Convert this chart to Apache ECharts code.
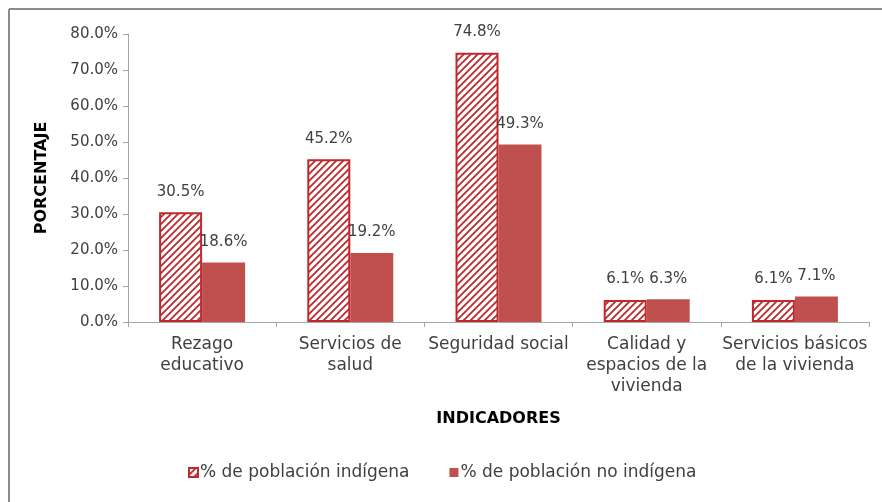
<!DOCTYPE html>
<html>
<head>
<meta charset="utf-8">
<script src="https://cdn.jsdelivr.net/npm/echarts@6/dist/echarts.min.js"></script>
<style>html,body{margin:0;padding:0;background:#fff}#c{width:882px;height:502px}</style>
</head>
<body>
<div id="c"></div>
<script>
var categories = ['Rezago\neducativo', 'Servicios de\nsalud', 'Seguridad social', 'Calidad y\nespacios de la\nvivienda', 'Servicios básicos\nde la vivienda'];
var seriesNames = ['% de población indígena', '% de población no indígena'];
var indigena = [30.5, 45.2, 74.8, 6.1, 6.1];
var noIndigena = [16.5, 19.2, 49.3, 6.3, 7.1];
var noIndigenaLabels = ['18.6%', '19.2%', '49.3%', '6.3%', '7.1%'];
var yTicks = [0, 10, 20, 30, 40, 50, 60, 70, 80];

var FONT = 'DejaVu Sans';
var hatchRed = '#c0282d';
var solidRed = '#c0504d';

function makeHatch() {
  var s = 7;
  var cv = document.createElement('canvas');
  cv.width = s; cv.height = s;
  var ctx = cv.getContext('2d');
  ctx.fillStyle = '#fff';
  ctx.fillRect(0, 0, s, s);
  ctx.strokeStyle = hatchRed;
  ctx.lineWidth = 1.8;
  ctx.beginPath();
  ctx.moveTo(-1, 1); ctx.lineTo(1, -1);
  ctx.moveTo(0, s); ctx.lineTo(s, 0);
  ctx.moveTo(s - 1, s + 1); ctx.lineTo(s + 1, s - 1);
  ctx.stroke();
  return cv;
}
var hatch = { image: makeHatch(), repeat: 'repeat' };

var chart = echarts.init(document.getElementById('c'), null, { renderer: 'canvas' });
chart.setOption({
  animation: false,
  backgroundColor: '#fff',
  textStyle: { fontFamily: FONT },
  graphic: [
    { type: 'line', shape: { x1: 9, y1: 9, x2: 882, y2: 9 }, style: { stroke: '#8c8c8c', lineWidth: 2 } },
    { type: 'line', shape: { x1: 9, y1: 9, x2: 9, y2: 502 }, style: { stroke: '#8c8c8c', lineWidth: 2 } }
  ],
  grid: { left: 128, right: 13, top: 34, bottom: 180, containLabel: false },
  legend: {
    bottom: 16,
    left: 183,
    icon: 'rect',
    itemWidth: 9, itemHeight: 9, itemGap: 40,
    textStyle: { fontFamily: FONT, fontSize: 17, color: '#404040', padding: [0, 0, 0, -3] },
    data: seriesNames
  },
  xAxis: {
    type: 'category',
    data: categories,
    name: 'INDICADORES',
    nameLocation: 'middle',
    nameGap: 89,
    nameTextStyle: { fontFamily: FONT, fontSize: 16, fontWeight: 'bold', color: '#000' },
    axisLine: { lineStyle: { color: '#a6a6a6', width: 1 } },
    axisTick: { show: true, length: 5, lineStyle: { color: '#a6a6a6' } },
    axisLabel: { fontFamily: FONT, fontSize: 17, color: '#404040', lineHeight: 21, margin: 12, interval: 0 }
  },
  yAxis: {
    type: 'value',
    min: 0, max: 80, interval: 10,
    name: 'PORCENTAJE',
    nameLocation: 'middle',
    nameGap: 78,
    nameTextStyle: { fontFamily: FONT, fontSize: 16, fontWeight: 'bold', color: '#000' },
    axisLine: { show: true, lineStyle: { color: '#a6a6a6', width: 1 } },
    axisTick: { show: true, length: 5, lineStyle: { color: '#a6a6a6' } },
    splitLine: { show: false },
    axisLabel: { fontFamily: FONT, fontSize: 15, color: '#404040', margin: 10, formatter: function (v) { return v.toFixed(1) + '%'; } }
  },
  series: [
    {
      name: seriesNames[0],
      type: 'bar',
      data: indigena,
      barWidth: 43,
      barGap: '0%',
      itemStyle: { color: hatch, borderColor: hatchRed, borderWidth: 2 },
      label: { show: true, position: 'top', distance: 13, fontFamily: FONT, fontSize: 15, color: '#404040', formatter: function (p) { return p.value.toFixed(1) + '%'; } }
    },
    {
      name: seriesNames[1],
      type: 'bar',
      data: noIndigena,
      barWidth: 43,
      barGap: '0%',
      itemStyle: { color: solidRed },
      label: { show: true, position: 'top', distance: 13, fontFamily: FONT, fontSize: 15, color: '#404040', formatter: function (p) { return noIndigenaLabels[p.dataIndex]; } }
    }
  ]
});
</script>
</body>
</html>
